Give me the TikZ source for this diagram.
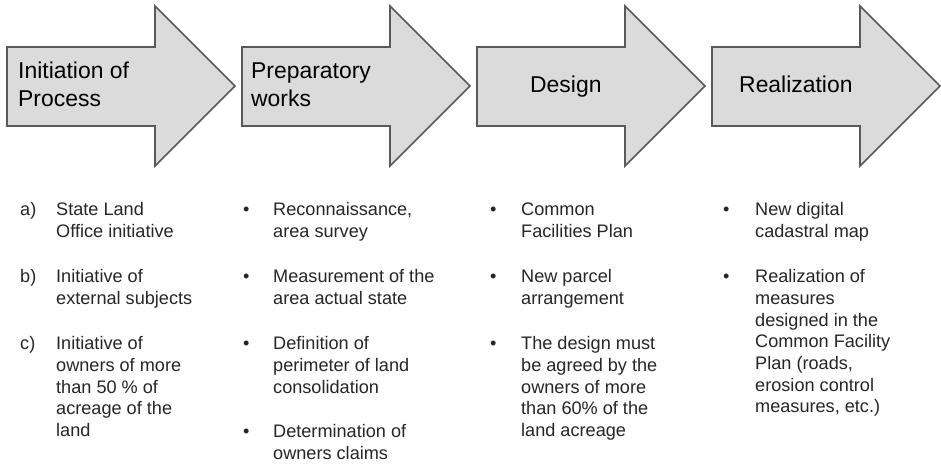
\documentclass[tikz,border=0pt]{standalone}
\usepackage{fontspec}
\setmainfont{Liberation Sans}
\usetikzlibrary{positioning}

\definecolor{stepfill}{HTML}{DBDBDB}
\definecolor{stepline}{HTML}{595959}
\definecolor{itemgray}{HTML}{262626}

%% Lines set from the baseline of the first one
\newcommand\toplines[1]{\begin{tabular}[t]{@{}l@{}}#1\end{tabular}}

\begin{document}
\begin{tikzpicture}[x=1bp,y=-1bp,
    stepshape/.style={draw=stepline,fill=stepfill,line width=1.6bp,line join=miter},
    steptitle/.style={inner sep=0pt,anchor=base west,font=\fontsize{23}{28}\selectfont},
    itemtext/.style={inner sep=0pt,anchor=base west,text=itemgray,font=\fontsize{18.2}{21.7}\selectfont},
    itemmark/.style={inner sep=0pt,anchor=base west,text=itemgray,font=\fontsize{18.2}{21.7}\selectfont}]

  %% Background and size of the page
  \useasboundingbox[fill=white] (0,0) rectangle (941,466);

  %% Draw the four arrows of the process
  \foreach \i in {1,...,4}{
    \pgfmathsetmacro\x{7+235*(\i-1)}
    \coordinate (start\i) at (\x,47);
    \draw[stepshape] (\x,47) -- (\x+148,47) -- (\x+148,6) -- (\x+228,86)
      -- (\x+148,166) -- (\x+148,126) -- (\x,126) -- cycle;
  }

  %% Titles inside the arrows
  \node[steptitle] (title1) at (18,79) {\toplines{Initiation of\\Process}};
  \node[steptitle] (title2) at (251,79) {\toplines{Preparatory\\works}};
  \node[steptitle] (title3) at (530,93) {Design};
  \node[steptitle] (title4) at (739,93) {Realization};

  %% First column (lettered)
  \foreach \y/\l/\txt [count=\n] in {215.7/a)/{State Land\\Office initiative},
      283/b)/{Initiative of\\external subjects},
      350/c)/{Initiative of\\owners of more\\than 50 \% of\\acreage of the\\land}}{
    \node[itemmark] (mark1-\n) at (20,\y) {\l};
    \node[itemtext] (item1-\n) at (56,\y) {\toplines{\txt}};
  }

  %% Second column
  \foreach \y/\txt [count=\n] in {215.7/{Reconnaissance,\\area survey},
      283/{Measurement of the\\area actual state},
      350/{Definition of\\perimeter of land\\consolidation},
      437.5/{Determination of\\owners claims}}{
    \node[itemmark] (mark2-\n) at (243,\y) {•};
    \node[itemtext] (item2-\n) at (273,\y) {\toplines{\txt}};
  }

  %% Third column
  \foreach \y/\txt [count=\n] in {215.7/{Common\\Facilities Plan},
      283/{New parcel\\arrangement},
      350/{The design must\\be agreed by the\\owners of more\\than 60\% of the\\land acreage}}{
    \node[itemmark] (mark3-\n) at (490,\y) {•};
    \node[itemtext] (item3-\n) at (521,\y) {\toplines{\txt}};
  }

  %% Fourth column
  \foreach \y/\txt [count=\n] in {215.7/{New digital\\cadastral map},
      283/{Realization of\\measures\\designed in the\\Common Facility\\Plan (roads,\\erosion control\\measures, etc.)}}{
    \node[itemmark] (mark4-\n) at (723,\y) {•};
    \node[itemtext] (item4-\n) at (755,\y) {\toplines{\txt}};
  }

\end{tikzpicture}
\end{document}
